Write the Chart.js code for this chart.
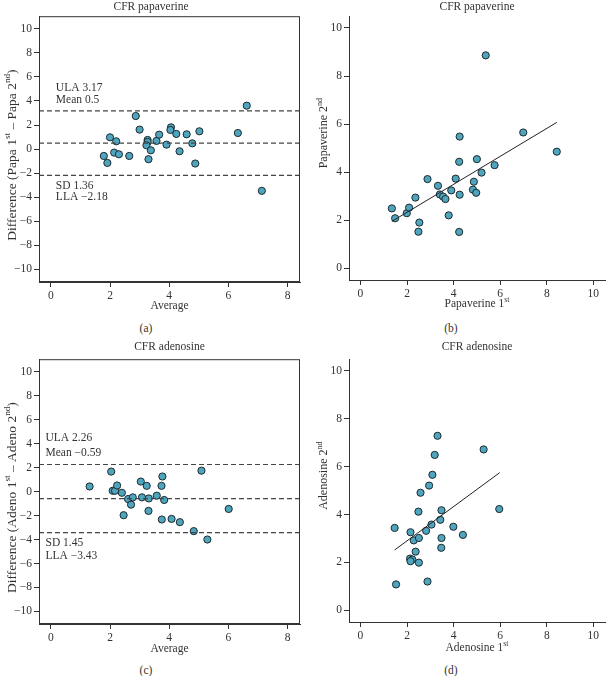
<!DOCTYPE html>
<html>
<head>
<meta charset="utf-8">
<script src="https://cdn.jsdelivr.net/npm/chart.js@4.4.0/dist/chart.umd.min.js"></script>
<style>
  body { margin: 0; background: #fff; width: 610px; height: 676px; position: relative; overflow: hidden; }
  .panel { position: absolute; width: 305px; height: 316px; }
  .cap { position: absolute; font: 11.5px "Liberation Serif", serif; color: #333; transform: translate(-50%, -50%); }
</style>
</head>
<body>
<div class="panel" style="left:0;top:0"><canvas id="chartA"></canvas></div>
<div class="panel" style="left:305px;top:0"><canvas id="chartB"></canvas></div>
<div class="panel" style="left:0;top:340px"><canvas id="chartC"></canvas></div>
<div class="panel" style="left:305px;top:340px"><canvas id="chartD"></canvas></div>
<div class="cap" style="left:146px;top:328px">(a)</div>
<div class="cap" style="left:451px;top:328px">(b)</div>
<div class="cap" style="left:146px;top:670px">(c)</div>
<div class="cap" style="left:451px;top:670px">(d)</div>
<script>
// CFR papaverine: Bland-Altman (average vs difference)
var papaAvg  = [1.79,1.91,2.00,2.14,2.21,2.30,2.65,2.87,3.00,3.27,3.27,3.23,3.30,3.38,3.57,3.66,3.91,4.06,4.04,4.24,4.35,4.59,4.78,4.88,5.02,6.32,6.62,7.13];
var papaDiff = [-0.57,-1.15,0.98,-0.29,0.65,-0.43,-0.57,2.75,1.62,0.76,0.59,0.32,-0.84,-0.10,0.68,1.20,0.37,1.81,1.59,1.26,-0.18,1.23,0.48,-1.20,1.48,1.34,3.61,-3.47];
var papaLimits = [3.17, 0.5, -2.18];

// CFR papaverine: 1st vs 2nd
var papaFirst  = [1.35,1.49,1.99,2.09,2.36,2.53,2.49,2.88,3.33,3.41,3.55,3.65,3.79,3.90,4.09,4.24,4.26,4.26,4.24,4.83,4.87,4.97,5.00,5.20,5.38,5.76,6.99,8.43];
var papaSecond = [2.49,2.08,2.29,2.52,2.94,1.90,1.52,3.71,3.43,3.07,2.98,2.88,2.20,3.24,3.73,4.43,5.48,3.06,1.51,3.27,3.60,3.14,4.54,3.98,8.86,4.29,5.65,4.85];
var papaFitX = [1.35, 8.43];
var papaFitY = [1.95, 6.07];

// CFR adenosine: Bland-Altman
var adenoAvg  = [1.31,2.04,2.09,2.17,2.24,2.40,2.46,2.61,2.71,2.77,3.04,3.08,3.24,3.31,3.30,3.58,3.74,3.77,3.75,3.83,4.08,4.36,4.83,5.09,5.29,6.01];
var adenoDiff = [0.43,1.67,0.07,0.07,0.51,-0.10,-1.97,-0.62,-1.09,-0.48,0.84,-0.48,0.48,-0.57,-1.61,-0.34,0.48,1.26,-2.33,-0.70,-2.28,-2.55,-3.30,1.75,-4.00,-1.45];
var adenoLimits = [2.26, -0.59, -3.43];

// CFR adenosine: 1st vs 2nd
var adenoFirst  = [1.47,1.53,2.15,2.13,2.23,2.15,2.29,2.37,2.49,2.51,2.51,2.58,2.82,2.88,2.95,3.05,3.09,3.19,3.31,3.43,3.48,3.48,3.47,3.99,4.40,5.29,5.96];
var adenoSecond = [3.44,1.08,3.26,2.16,2.12,2.05,2.92,2.45,4.12,3.02,1.99,4.91,3.32,1.20,5.21,3.58,5.66,6.49,7.29,3.78,4.18,3.02,2.61,3.49,3.15,6.72,4.23];
var adenoFitX = [1.47, 5.98];
var adenoFitY = [2.52, 5.75];

var papaNotes  = ['ULA 3.17', 'Mean 0.5', 'SD 1.36', 'LLA \u22122.18'];
var adenoNotes = ['ULA 2.26', 'Mean \u22120.59', 'SD 1.45', 'LLA \u22123.43'];

var FONT = '"Liberation Serif", "Times New Roman", serif';
var INK = '#333';
var DOT = '#4ea5bd';

function pts(xs, ys) {
  return xs.map(function(x, i) { return { x: x, y: ys[i] }; });
}

// text with superscript pieces: [['Papaverine 1'], ['st', 1]]
function drawRich(ctx, segs, cx, cy, rot, size) {
  var big = size + 'px ' + FONT, small = (size * 0.68) + 'px ' + FONT;
  var total = 0;
  segs.forEach(function(s) { ctx.font = s[1] ? small : big; total += ctx.measureText(s[0]).width; });
  ctx.save();
  ctx.translate(cx, cy);
  ctx.rotate(rot);
  ctx.textBaseline = 'alphabetic';
  ctx.textAlign = 'left';
  ctx.fillStyle = INK;
  var x = -total / 2, base = size * 0.35;
  segs.forEach(function(s) {
    ctx.font = s[1] ? small : big;
    ctx.fillText(s[0], x, s[1] ? base - size * 0.4 : base);
    x += ctx.measureText(s[0]).width;
  });
  ctx.restore();
}

// frame box, notes in data coordinates, axis titles
var extras = {
  id: 'extras',
  afterDraw: function(chart, args, opts) {
    var ctx = chart.ctx, a = chart.chartArea;
    ctx.save();
    if (opts.box) {
      ctx.strokeStyle = INK;
      ctx.lineWidth = 1;
      ctx.strokeRect(a.left + 0.5, a.top + 0.5, a.right - a.left - 1, a.bottom - a.top - 1);
    }
    if (opts.notes) {
      ctx.fillStyle = INK;
      ctx.font = '11.5px ' + FONT;
      ctx.textAlign = 'left';
      ctx.textBaseline = 'middle';
      opts.notes.forEach(function(n) {
        ctx.fillText(n.text, chart.scales.x.getPixelForValue(n.x), chart.scales.y.getPixelForValue(n.y));
      });
    }
    ctx.restore();
    var cx = (a.left + a.right) / 2;
    drawRich(ctx, opts.xTitle, cx, a.bottom + opts.xTitleDy, 0, 11.5);
    drawRich(ctx, opts.yTitle, opts.yTitleX, (a.top + a.bottom) / 2 + opts.yTitleDy, -Math.PI / 2, opts.yTitleSize);
  }
};

function fmtTick(v) {
  return v < 0 ? '\u2212' + Math.abs(v) : String(v);
}

function axis(min, max, w, pos) {
  return {
    type: 'linear',
    position: pos,
    min: min,
    max: max,
    ticks: { stepSize: 2, includeBounds: false, color: INK, font: { family: FONT, size: 11.5 }, padding: 2, callback: fmtTick },
    grid: { display: true, drawOnChartArea: false, drawTicks: true, tickLength: 5, color: INK },
    border: { display: true, color: INK, width: 1 },
    title: { display: false },
    afterFit: function(s) { if (pos === 'left') s.width = w; else s.height = w; }
  };
}

function makePanel(id, o) {
  var datasets = [];
  (o.limits || []).forEach(function(v) {
    datasets.push({
      type: 'line',
      data: [{ x: o.xr[0], y: v }, { x: o.xr[1], y: v }],
      borderColor: '#444', borderWidth: 1.2, borderDash: [5, 3],
      pointRadius: 0, fill: false
    });
  });
  if (o.fitX) {
    datasets.push({
      type: 'line',
      data: pts(o.fitX, o.fitY),
      borderColor: '#222', borderWidth: 1,
      pointRadius: 0, fill: false
    });
  }
  datasets.push({
    type: 'scatter',
    data: pts(o.xs, o.ys),
    backgroundColor: DOT, borderColor: '#1c2a2f', borderWidth: 1,
    pointRadius: 3.6
  });

  return new Chart(document.getElementById(id), {
    type: 'scatter',
    data: { datasets: datasets },
    plugins: [extras],
    options: {
      responsive: true,
      maintainAspectRatio: false,
      animation: false,
      layout: { padding: { left: 0, right: o.padRight, top: 0, bottom: 0 } },
      scales: {
        x: axis(o.xr[0], o.xr[1], o.xH, 'bottom'),
        y: axis(o.yr[0], o.yr[1], o.yW, 'left')
      },
      plugins: {
        legend: { display: false },
        tooltip: { enabled: false },
        title: {
          display: true, text: o.title, color: INK,
          font: { family: FONT, size: 11.5, weight: 'normal' },
          padding: { top: 0, bottom: o.titleGap },
          fullSize: o.fullTitle
        },
        extras: {
          box: o.box, notes: o.notes,
          xTitle: o.xTitle, xTitleDy: o.xTitleDy,
          yTitle: o.yTitle, yTitleX: o.yTitleX, yTitleDy: o.yTitleDy, yTitleSize: o.yTitleSize
        }
      }
    }
  });
}

makePanel('chartA', {
  title: 'CFR papaverine', titleGap: 2.4, fullTitle: true,
  xs: papaAvg, ys: papaDiff, limits: papaLimits,
  xr: [-0.4, 8.42], yr: [-11.05, 11.05],
  xTitle: [['Average']], xTitleDy: 23,
  yTitle: [['Difference (Papa 1'], ['st', 1], [' \u2013 Papa 2'], ['nd', 1], [')']],
  yTitleX: 11, yTitleDy: 6, yTitleSize: 13.5,
  xH: 34, yW: 39, padRight: 3, box: true,
  notes: [
    { text: papaNotes[0], x: 0.17, y: 5.1 },
    { text: papaNotes[1], x: 0.17, y: 4.08 },
    { text: papaNotes[2], x: 0.17, y: -3.03 },
    { text: papaNotes[3], x: 0.17, y: -3.97 }
  ]
});

makePanel('chartB', {
  title: 'CFR papaverine', titleGap: 2.4, fullTitle: false,
  xs: papaFirst, ys: papaSecond, fitX: papaFitX, fitY: papaFitY,
  xr: [-0.49, 10.5], yr: [-0.49, 10.49],
  xTitle: [['Papaverine 1'], ['st', 1]], xTitleDy: 23,
  yTitle: [['Papaverine 2'], ['nd', 1]],
  yTitleX: 18, yTitleDy: -15, yTitleSize: 12,
  xH: 36, yW: 44, padRight: 0, box: false
});

makePanel('chartC', {
  title: 'CFR adenosine', titleGap: 5.4, fullTitle: false,
  xs: adenoAvg, ys: adenoDiff, limits: adenoLimits,
  xr: [-0.4, 8.42], yr: [-11.05, 11.05],
  xTitle: [['Average']], xTitleDy: 24,
  yTitle: [['Difference (Adeno 1'], ['st', 1], [' \u2013 Adeno 2'], ['nd', 1], [')']],
  yTitleX: 11, yTitleDy: 6, yTitleSize: 13.5,
  xH: 32, yW: 39, padRight: 3, box: true,
  notes: [
    { text: adenoNotes[0], x: -0.18, y: 4.48 },
    { text: adenoNotes[1], x: -0.18, y: 3.24 },
    { text: adenoNotes[2], x: -0.18, y: -4.26 },
    { text: adenoNotes[3], x: -0.18, y: -5.34 }
  ]
});

makePanel('chartD', {
  title: 'CFR adenosine', titleGap: 5.4, fullTitle: false,
  xs: adenoFirst, ys: adenoSecond, fitX: adenoFitX, fitY: adenoFitY,
  xr: [-0.49, 10.5], yr: [-0.49, 10.49],
  xTitle: [['Adenosine 1'], ['st', 1]], xTitleDy: 25,
  yTitle: [['Adenosine 2'], ['nd', 1]],
  yTitleX: 18, yTitleDy: -15, yTitleSize: 12,
  xH: 34, yW: 44, padRight: 0, box: false
});
</script>
</body>
</html>
